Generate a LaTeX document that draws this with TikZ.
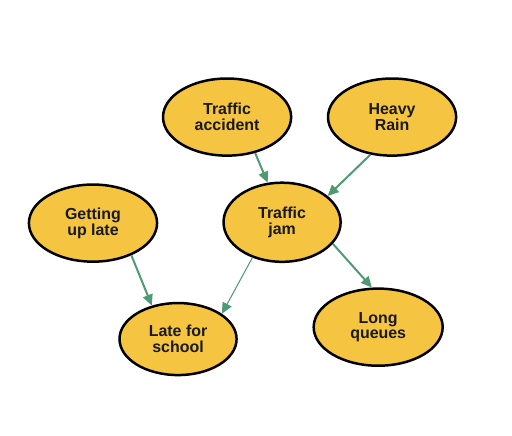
\documentclass[tikz,border=0pt]{standalone}
\usepackage{fontspec}
\setsansfont{Liberation Sans}
\usetikzlibrary{shapes.geometric, arrows.meta, positioning}
\definecolor{causefill}{HTML}{F5C542}
\definecolor{causearrow}{HTML}{4E9A72}

\begin{document}
\begin{tikzpicture}[
    font=\sffamily\bfseries,
    >={Triangle[length=11pt,width=10pt]}
]
    % Styles for ellipses and arrows
    \tikzstyle{cause} = [draw, ellipse, line width=2.5pt, fill=causefill, align=center, inner sep=0pt, minimum width=4.52cm, minimum height=2.72cm, text=black!90, font=\sffamily\bfseries\fontsize{16}{16}\selectfont]
    \tikzstyle{link} = [->, draw=causearrow, fill=causearrow, line width=2pt]

    \useasboundingbox (0,0) rectangle (18.06,15.35);

    % Causes (Top)
    \node [cause] (TrafficAcc) at (8.01,11.22) {Traffic\\accident};
    \node [cause] (HeavyRain) at (13.83,11.22) {Heavy\\Rain};

    % Middle row
    \node [cause] (GettingUp) at (3.28,7.48) {Getting\\up late};
    \node [cause, minimum width=4.13cm, minimum height=2.79cm] (TrafficJam) at (9.95,7.51) {Traffic\\jam};

    % Effects (Bottom)
    \node [cause, minimum width=4.13cm, minimum height=2.54cm] (LateSchool) at (6.28,3.39) {Late for\\school};
    \node [cause, minimum width=4.55cm] (LongQueues) at (13.34,3.81) {Long\\queues};

    % Connections
    \draw [link] (TrafficAcc.-52) -- (TrafficJam.110);
    \draw [link] (HeavyRain.-120) -- (TrafficJam.30);
    \draw [link] (GettingUp.-40) -- (LateSchool.128);
    \draw [link, line width=1pt] (TrafficJam.-130) -- (LateSchool.30);
    \draw [link] (TrafficJam.-23) -- (LongQueues.99);

\end{tikzpicture}
\end{document}
